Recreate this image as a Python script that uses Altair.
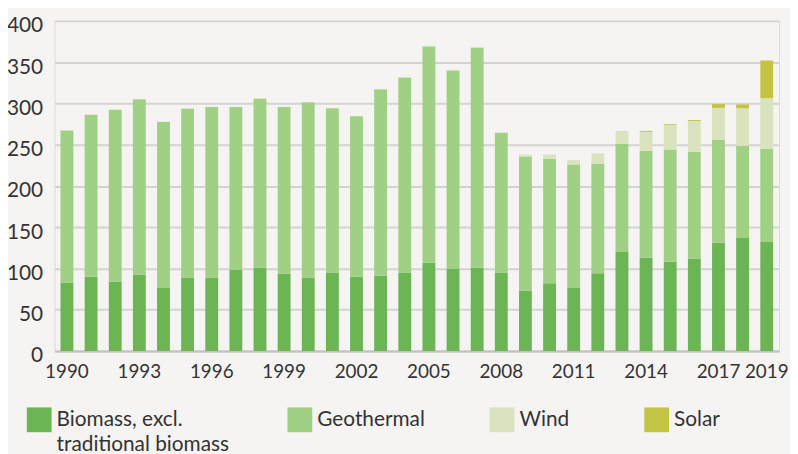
import altair as alt
import pandas as pd

years = list(range(1990, 2020))
biomass = [83, 90, 84, 92.5, 77, 89, 89, 98.5, 101, 93.5, 89, 95, 90, 91, 95,
           107, 100, 101, 95, 73, 82, 77, 94, 120, 113, 108, 112, 131, 137, 132]
geothermal = [184, 196, 208, 212.5, 200.5, 204.5, 206.5, 197, 204.5, 202, 212.5, 199, 194.5, 226, 236.5,
              262, 240, 266.5, 169, 162.5, 151, 149, 133, 131, 129.5, 136, 129.5, 125, 111.5, 113]
wind = [0.3, 0.8, 0.8, 0.3, 0.3, 0.6, 0.3, 0.3, 0.8, 0.3, 0.3, 0.3, 0.3, 0.3, 0.3,
        0.8, 0.8, 0.8, 1, 2.5, 5, 5.5, 12.5, 15.7, 23, 30, 37, 38.5, 45.5, 61.3]
solar = [0] * 24 + [1.2, 1, 1.3, 4.7, 4.7, 45.7]

series_names = ["Biomass, excl. traditional biomass", "Geothermal", "Wind", "Solar"]
series_colors = ["#6cb554", "#9fd083", "#d9e3bd", "#c4c444"]
tick_years = [1990, 1993, 1996, 1999, 2002, 2005, 2008, 2011, 2014, 2017, 2019]
y_ticks = [0, 50, 100, 150, 200, 250, 300, 350, 400]

# legend entries (one small legend per series)
legend_labels = [["Biomass, excl.", "traditional biomass"], ["Geothermal"], ["Wind"], ["Solar"]]
legend_x = [-28, 235, 439, 595]
legend_y = 390

rows = []
for i, (name, vals) in enumerate(zip(series_names, [biomass, geothermal, wind, solar])):
    for yr, v in zip(years, vals):
        rows.append({"year": yr, "source": name, "value": v, "order": i})
df = pd.DataFrame(rows)

TEXT = "#333333"
FONT = "Lato"

bars = alt.Chart(df).mark_bar().encode(
    x=alt.X("year:O", title=None,
            scale=alt.Scale(paddingInner=0.467, paddingOuter=0.246),
            axis=alt.Axis(values=tick_years, labelAngle=0, ticks=False, tickSize=0,
                          domain=True, domainColor="#c2c2c0", domainWidth=2,
                          labelPadding=12, labelFontSize=19, labelColor=TEXT,
                          labelFont=FONT, grid=False)),
    y=alt.Y("value:Q", stack="zero", title=None,
            scale=alt.Scale(domain=[0, 400], nice=False),
            axis=alt.Axis(values=y_ticks, ticks=False, tickSize=0, domain=False,
                          labelPadding=12, labelOffset=5, labelFontSize=21,
                          labelColor=TEXT, labelFont=FONT,
                          grid=True, gridColor="#d3d3d1", gridWidth=2)),
    color=alt.Color("source:N", scale=alt.Scale(domain=series_names, range=series_colors),
                    legend=None),
    order=alt.Order("order:Q"),
)

layers = [bars]
for i, labels in enumerate(legend_labels):
    rng = [series_colors[i]] + ["transparent"] * (len(labels) - 1)
    ldf = pd.DataFrame({"entry": labels})
    lay = alt.Chart(ldf).mark_square(opacity=0).encode(
        color=alt.Color("entry:N",
                        scale=alt.Scale(domain=labels, range=rng),
                        legend=alt.Legend(orient="none", legendX=legend_x[i], legendY=legend_y,
                                          title=None, symbolType="square", symbolSize=625,
                                          symbolStrokeWidth=0, symbolOpacity=1,
                                          labelFont=FONT, labelFontSize=21, labelColor=TEXT,
                                          labelOffset=5, padding=0, rowPadding=0,
                                          labelLimit=400, direction="vertical"))
    )
    layers.append(lay)

chart = alt.layer(*layers).resolve_scale(color="independent").properties(
    width=731, height=333,
    autosize=alt.AutoSizeParams(type="none"),
    padding={"left": 47, "top": 11, "right": 11, "bottom": 102},
    background="#f5f4f2",
).configure_view(stroke=None).configure(font=FONT)

chart.save("out.html", embed_options={"renderer": "svg", "actions": False})
